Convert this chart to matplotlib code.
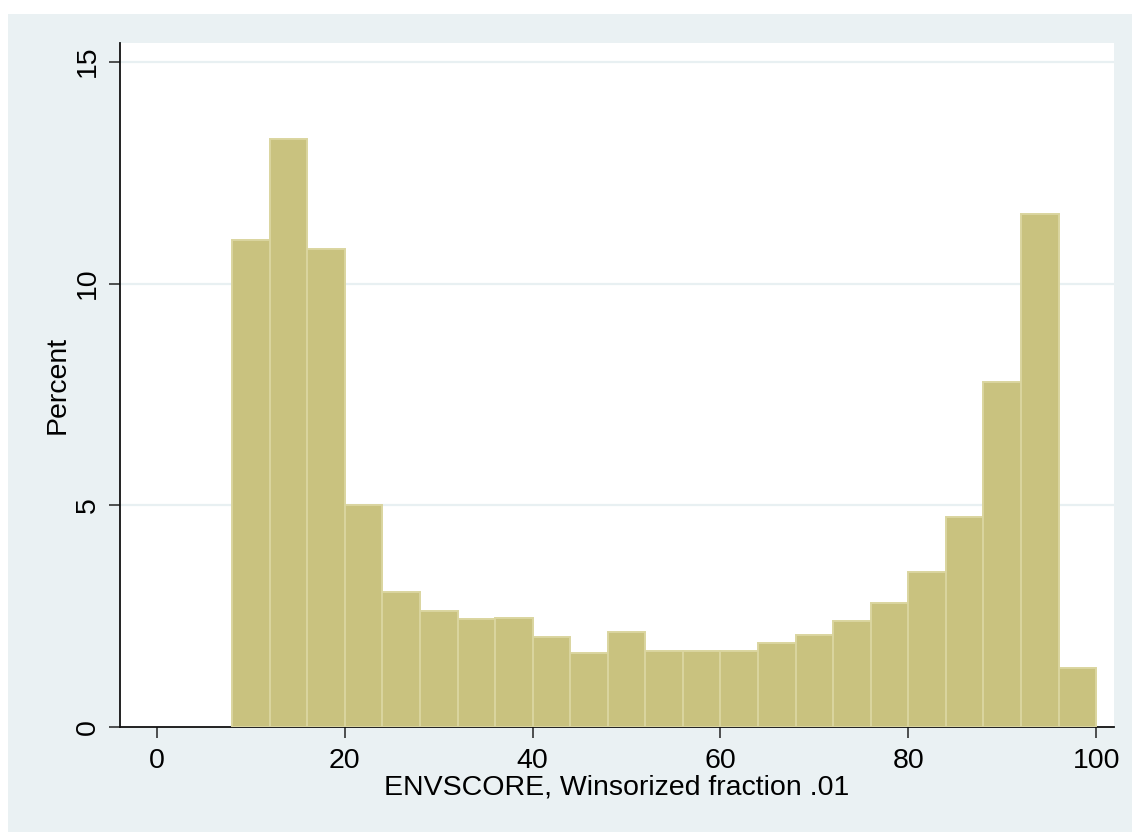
import matplotlib
matplotlib.use("Agg")
import matplotlib.pyplot as plt
from matplotlib.patches import Rectangle

# Data: histogram bins (width 4) and percent heights
bin_edges = [8, 12, 16, 20, 24, 28, 32, 36, 40, 44, 48, 52, 56, 60, 64, 68, 72, 76, 80, 84, 88, 92, 96, 100]
percent = [10.97, 13.26, 10.78, 5.0, 3.05, 2.62, 2.43, 2.47, 2.04, 1.68, 2.14, 1.73, 1.73, 1.73, 1.91, 2.08, 2.39, 2.79, 3.5, 4.74, 7.78, 11.57, 1.33]
x_ticks = [0, 20, 40, 60, 80, 100]
y_ticks = [0, 5, 10, 15]
x_label = "ENVSCORE, Winsorized fraction .01"
y_label = "Percent"

plt.rcParams['font.family'] = ['Liberation Sans', 'DejaVu Sans']

W, H = 1132, 832
fs = 20.5
fig = plt.figure(figsize=(W / 100, H / 100), dpi=100, facecolor='white')
bg = '#EAF1F3'
fig.patches.append(Rectangle((8 / W, 0), 1 - 8 / W, 1 - 14 / H, transform=fig.transFigure,
                             facecolor=bg, edgecolor='none', zorder=-10))

ax = fig.add_axes([120 / W, (H - 727.3) / H, (1114 - 120) / W, (727.3 - 43) / H])
ax.set_facecolor('white')

widths = [bin_edges[i + 1] - bin_edges[i] for i in range(len(percent))]
ax.bar(bin_edges[:-1], percent, width=widths, align='edge', color='#C9C27F',
       edgecolor='#DAD59F', linewidth=1.4, zorder=3)

ax.set_xlim(-3.94, 101.9)
ax.set_ylim(0, 15.42)

for y in y_ticks[1:]:
    ax.axhline(y, color='#E8F0F2', linewidth=1.6, zorder=1)

ax.set_xticks(x_ticks)
ax.set_yticks(y_ticks)
ax.set_xticklabels([str(t) for t in x_ticks], fontsize=fs)
ax.set_yticklabels([str(t) for t in y_ticks], fontsize=fs, rotation=90, va='center')
ax.tick_params(axis='both', direction='out', length=8, width=1.1, color='#222222', pad=6)
ax.tick_params(axis='x', pad=7)

for s in ['top', 'right']:
    ax.spines[s].set_visible(False)
for s in ['left', 'bottom']:
    ax.spines[s].set_color('#111111')
    ax.spines[s].set_linewidth(1.3)

ax.set_xlabel(x_label, fontsize=fs, labelpad=0)
ax.set_ylabel(y_label, fontsize=fs, labelpad=3)

fig.savefig("out.png", dpi=100, facecolor=fig.get_facecolor())
